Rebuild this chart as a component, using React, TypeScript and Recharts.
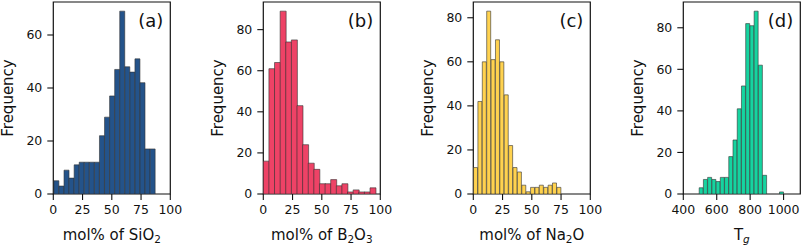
import React from 'react';
import { ComposedChart, Bar, XAxis, YAxis, ReferenceArea, Customized } from 'recharts';

// ---- data (histogram counts per bin) ----
const countsSiO2 = [5, 3, 9, 6, 11, 12, 12, 12, 12, 22, 29, 37, 47, 69, 48, 46, 51, 42, 17, 17];
const countsB2O3 = [16, 61, 64, 89, 74, 75, 43, 24, 15, 12, 5, 5, 7, 4, 5, 1, 2, 1, 1, 3];
const countsNa2O = [12, 42, 60, 83, 61, 70, 60, 45, 22, 12, 10, 4, 1, 3, 3, 4, 3, 4, 5, 3];
const countsTg = [3, 7, 8, 7, 6, 8, 8, 18, 26, 41, 52, 82, 81, 88, 62, 9, 0, 0, 0, 1];

// bin start and bin width of each histogram
const binSiO2 = [0.5, 4.33];
const binB2O3 = [0.0, 4.8];
const binNa2O = [0.2, 3.75];
const binTg = [495, 25.3];

const xTicksPct = [0, 25, 50, 75, 100];
const xTicksTg = [400, 600, 800, 1000];
const yTicks60 = [0, 20, 40, 60];
const yTicks80 = [0, 20, 40, 60, 80];

const FONT = '"DejaVu Sans", sans-serif';
const INK = '#111';
const PLOT_LEFT = 53.3;
const PLOT_W = 117;
const PLOT_TOP = 2;
const PLOT_H = 192;
const CH = 246;

type Piece = { t: string; sub?: boolean; it?: boolean };

function Overlay(props: { tag: string; label: Piece[] }) {
  const { tag, label } = props;
  const cx = PLOT_LEFT + PLOT_W / 2;
  const cy = PLOT_TOP + PLOT_H / 2;
  let prevSub = false;
  const spans = label.map((p, i) => {
    let dy = 0;
    if (p.sub && !prevSub) dy = 3.5;
    if (!p.sub && prevSub) dy = -3.5;
    prevSub = !!p.sub;
    return (
      <tspan key={i} dy={dy} fontSize={p.sub ? 10.5 : 15} fontStyle={p.it ? 'italic' : 'normal'}>
        {p.t}
      </tspan>
    );
  });
  return (
    <g fontFamily={FONT} fill={INK}>
      <text
        x={PLOT_LEFT - 40.5}
        y={cy}
        fontSize={15}
        textAnchor="middle"
        transform={`rotate(-90 ${PLOT_LEFT - 40.5} ${cy})`}
      >
        Frequency
      </text>
      <text x={cx} y={240} fontSize={15} textAnchor="middle">
        {spans}
      </text>
      <text x={PLOT_LEFT + PLOT_W - 7} y={27} fontSize={18} textAnchor="end">
        {tag}
      </text>
    </g>
  );
}

type PanelProps = {
  left: number;
  counts: number[];
  bin: number[];
  xDomain: [number, number];
  xTicks: number[];
  yMax: number;
  yTicks: number[];
  color: string;
  tag: string;
  label: Piece[];
  right: number;
};

function Panel(p: PanelProps) {
  const data = p.counts.map((c, i) => ({ x: p.bin[0] + (i + 0.5) * p.bin[1], count: c }));
  const W = PLOT_LEFT + PLOT_W + p.right;
  const tickStyle = { fill: INK, fontSize: 12.5, fontFamily: FONT };
  return (
    <div style={{ position: 'absolute', left: p.left, top: 0 }}>
      <ComposedChart
        width={W}
        height={CH}
        data={data}
        margin={{ top: PLOT_TOP, right: p.right, bottom: 0, left: 0 }}
        barCategoryGap={0}
        barGap={0}
      >
        <XAxis
          type="number"
          dataKey="x"
          domain={p.xDomain}
          ticks={p.xTicks}
          interval={0}
          allowDataOverflow
          height={CH - PLOT_TOP - PLOT_H}
          axisLine={false}
          tickSize={6}
          tickMargin={5}
          tickLine={{ stroke: INK, strokeWidth: 1.1 }}
          tick={tickStyle}
        />
        <YAxis
          type="number"
          domain={[0, p.yMax]}
          ticks={p.yTicks}
          interval={0}
          allowDataOverflow
          width={PLOT_LEFT}
          axisLine={false}
          tickSize={6}
          tickMargin={5}
          tickLine={{ stroke: INK, strokeWidth: 1.1 }}
          tick={tickStyle}
        />
        <Bar dataKey="count" fill={p.color} stroke="#333" strokeWidth={0.6} isAnimationActive={false} />
        <ReferenceArea
          x1={p.xDomain[0]}
          x2={p.xDomain[1]}
          y1={0}
          y2={p.yMax}
          fill="none"
          fillOpacity={0}
          stroke={INK}
          strokeWidth={1.2}
          ifOverflow="visible"
        />
        <Customized component={<Overlay tag={p.tag} label={p.label} />} />
      </ComposedChart>
    </div>
  );
}

export default function App() {
  return (
    <div style={{ position: 'absolute', left: 0, top: 0, width: 803, height: 246, overflow: 'hidden', background: '#fff' }}>
      <Panel
        left={0}
        counts={countsSiO2}
        bin={binSiO2}
        xDomain={[0, 100]}
        xTicks={xTicksPct}
        yMax={72.45}
        yTicks={yTicks60}
        color="#24538a"
        tag="(a)"
        label={[{ t: 'mol% of SiO' }, { t: '2', sub: true }]}
        right={20}
      />
      <Panel
        left={210}
        counts={countsB2O3}
        bin={binB2O3}
        xDomain={[0, 100]}
        xTicks={xTicksPct}
        yMax={93.45}
        yTicks={yTicks80}
        color="#ee4266"
        tag="(b)"
        label={[{ t: 'mol% of B' }, { t: '2', sub: true }, { t: 'O' }, { t: '3', sub: true }]}
        right={20}
      />
      <Panel
        left={420}
        counts={countsNa2O}
        bin={binNa2O}
        xDomain={[0, 100]}
        xTicks={xTicksPct}
        yMax={87.15}
        yTicks={yTicks80}
        color="#ffd24f"
        tag="(c)"
        label={[{ t: 'mol% of Na' }, { t: '2', sub: true }, { t: 'O' }]}
        right={20}
      />
      <Panel
        left={630}
        counts={countsTg}
        bin={binTg}
        xDomain={[400, 1100]}
        xTicks={xTicksTg}
        yMax={92.4}
        yTicks={yTicks80}
        color="#16d4a0"
        tag="(d)"
        label={[{ t: 'T' }, { t: 'g', sub: true, it: true }]}
        right={2.5}
      />
    </div>
  );
}
